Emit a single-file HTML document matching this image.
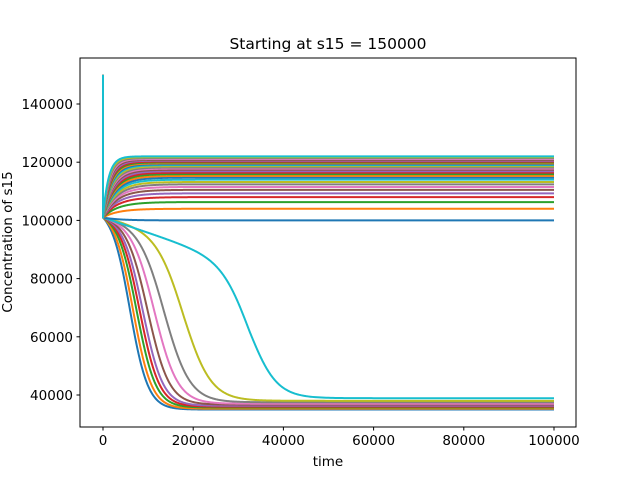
<!DOCTYPE html>
<html><head><meta charset="utf-8"><style>
body{margin:0;background:#fff;}
svg text{font-family:"DejaVu Sans","Liberation Sans",sans-serif;fill:#000;}
</style></head><body>
<svg id="chart" width="640" height="480" viewBox="0 0 640 480" xmlns="http://www.w3.org/2000/svg">
<rect width="640" height="480" fill="#fff"/>
<g id="plot"></g>
<rect x="80" y="58" width="496" height="369" fill="none" stroke="#000" stroke-width="1"/>
<g id="ticks"></g>
<text x="328" y="49" font-size="15.5" text-anchor="middle">Starting at s15 = 150000</text>
<text x="328" y="466" font-size="13.5" text-anchor="middle">time</text>
<text x="0" y="0" font-size="13.5" text-anchor="middle" transform="translate(12,242) rotate(-90)">Concentration of s15</text>
</svg>
<script>
const colors=["#1f77b4","#ff7f0e","#2ca02c","#d62728","#9467bd","#8c564b","#e377c2","#7f7f7f","#bcbd22","#17becf"];
// lower (declining) series: final level, midpoint time, width, early sag
const lowFinal=[35000,35300,35700,36000,36300,36700,37000,37500,38000,38900];
const lowMid=[6000,6700,7500,8200,8900,10000,11500,13700,18000,32600];
const lowWidth=[2000,2050,2100,2150,2200,2350,2550,2800,3000,3000];
const lowSag=[1000,1000,1200,1400,1600,2000,2500,3500,6000,17000];
// upper (rising) series: final level
const upFinal=[100000,104000,106300,108000,109300,110500,111500,112400,113200,114000,114700,115300,115900,116400,116900,117400,117800,118200,118600,119000,119300,119600,119900,120200,120500,120800,121100,121400,121700,122000];
const xTicks=[0,20000,40000,60000,80000,100000];
const yTicks=[40000,60000,80000,100000,120000,140000];
const startValue=150000, jumpValue=101000, tEnd=100000;
const X=t=>103+t*451/100000;
const Y=v=>395-(v-40000)*291/100000;
const NS="http://www.w3.org/2000/svg";
const plot=document.getElementById('plot');
function addLine(pts,color,name){
  const p=document.createElementNS(NS,'polyline');
  p.setAttribute('points',pts.map(q=>X(q[0]).toFixed(2)+','+Y(q[1]).toFixed(2)).join(' '));
  p.setAttribute('fill','none');p.setAttribute('stroke',color);p.setAttribute('stroke-width','2');
  p.setAttribute('stroke-linejoin','round');
  
  
  plot.appendChild(p);
}
let idx=0;
lowFinal.forEach((L,i)=>{
  const m=lowMid[i],w=lowWidth[i],d=lowSag[i];
  const s0=1/(1+Math.exp(-m/w));
  const pts=[[0,startValue],[0,jumpValue]];
  for(let t=100;t<=tEnd;t+=t<40000?100:500){
    const S=jumpValue-d*Math.min(t,m)/m;
    const sig=1/(1+Math.exp((t-m)/w))/s0;
    pts.push([t,L+(S-L)*Math.min(1,sig)]);
  }
  addLine(pts,colors[idx%10],'series-low-'+i);idx++;
});
upFinal.forEach((L,i)=>{
  const tau=3500-2300*(i/(upFinal.length-1));
  const pts=[[0,startValue],[0,jumpValue]];
  for(let t=100;t<=tEnd;t+=t<30000?100:1000){
    pts.push([t,L+(jumpValue-L)*Math.exp(-t/tau)]);
  }
  addLine(pts,colors[idx%10],'series-high-'+i);idx++;
});
const tg=document.getElementById('ticks');
xTicks.forEach(v=>{
  const l=document.createElementNS(NS,'line');
  l.setAttribute('x1',X(v));l.setAttribute('x2',X(v));l.setAttribute('y1',427);l.setAttribute('y2',430.5);l.setAttribute('stroke','#000');
  
  
  tg.appendChild(l);
  const t=document.createElementNS(NS,'text');
  t.setAttribute('x',X(v));t.setAttribute('y',445);t.setAttribute('font-size','13.5');t.setAttribute('text-anchor','middle');
  t.textContent=v;
  
  
  tg.appendChild(t);
});
yTicks.forEach(v=>{
  const l=document.createElementNS(NS,'line');
  l.setAttribute('x1',76.5);l.setAttribute('x2',80);l.setAttribute('y1',Y(v));l.setAttribute('y2',Y(v));l.setAttribute('stroke','#000');
  
  
  tg.appendChild(l);
  const t=document.createElementNS(NS,'text');
  t.setAttribute('x',73);t.setAttribute('y',Y(v)+5);t.setAttribute('font-size','13.5');t.setAttribute('text-anchor','end');
  t.textContent=v;
  
  
  tg.appendChild(t);
});
</script>
</body></html>
